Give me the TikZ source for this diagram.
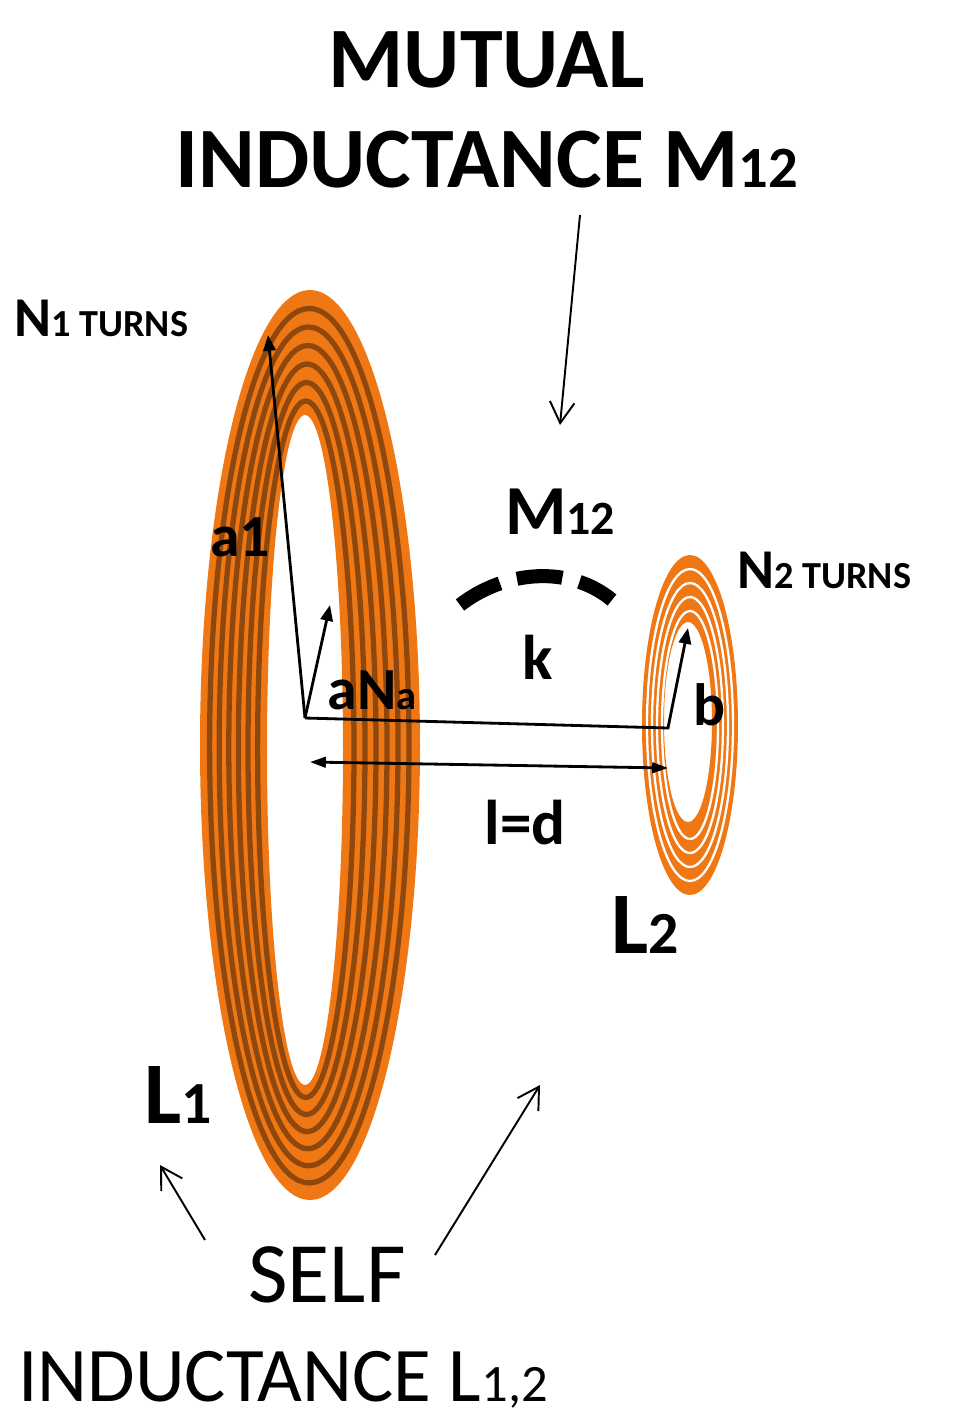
\documentclass[tikz,border=0pt]{standalone}
\usepackage{fontspec}
\setmainfont{Carlito}
\usetikzlibrary{arrows.meta}
\definecolor{cor}{RGB}{240,120,20}
\definecolor{cdark}{RGB}{110,55,10}
\tikzset{
  lab/.style={font=\bfseries\fontsize{#1}{#1}\selectfont, inner sep=0pt},
  reg/.style={font=\fontsize{#1}{#1}\selectfont, inner sep=0pt},
  vec/.style={line width=1.6pt, -{Triangle[length=9pt,width=7pt]}},
  thin/.style={line width=1.1pt, -{Straight Barb[length=12pt,width=14pt]}}
}
\newcommand{\sbs}[1]{{\fontsize{0.68em}{1em}\selectfont #1}}
\begin{document}
\begin{tikzpicture}[x=0.02cm,y=-0.02cm]
\useasboundingbox (0,0) rectangle (978,1428);
% big coil
\fill[cor,even odd rule] (310,745) ellipse [x radius=110,y radius=455] (305,750) ellipse [x radius=38,y radius=335];
\foreach \i in {1,...,6}{
  \pgfmathsetmacro\rx{110-\i*10.3}
  \pgfmathsetmacro\ry{455-\i*17.8}
  \pgfmathsetmacro\cx{310-\i*0.7}
  \draw[cdark,line width=3pt,opacity=0.75] (\cx,745+\i*0.7) ellipse [x radius=\rx,y radius=\ry];
}
% small coil
\fill[cor,even odd rule] (690,725) ellipse [x radius=48,y radius=170] (688,722) ellipse [x radius=24,y radius=100];
\foreach \i in {1,...,4}{
  \pgfmathsetmacro\rx{48-\i*5}
  \pgfmathsetmacro\ry{170-\i*14}
  \draw[white,line width=1.3pt] (690,725) ellipse [x radius=\rx,y radius=\ry];
}
% coordinates
\coordinate (O) at (305,718);
\coordinate (A1) at (268,335);
\coordinate (AN) at (330,605);
\coordinate (P) at (668,728);
\coordinate (B) at (688,628);
\coordinate (D1) at (310,762);
\coordinate (D2) at (668,768);
\draw[vec] (O) -- (A1);
\draw[vec] (O) -- (AN);
\draw[line width=1.6pt,-{Triangle[length=9pt,width=7pt]}] (O) -- (P) -- (B);
\draw[line width=1.6pt,{Triangle[length=9pt,width=6pt]}-{Triangle[length=9pt,width=6pt]}] (D1) -- (D2);
% dashed arc
\draw[line width=8pt,dash pattern=on 26pt off 10pt] (460,605) .. controls (505,570) and (570,565) .. (612,600);
% texts
\node[lab=49pt] (t1) at (487,60) {MUTUAL};
\node[lab=49pt] (t2) at (487,160) {INDUCTANCE M\sbs{12}};
\node[lab=32pt,anchor=west] (n1) at (14,318) {N\sbs{1 TURNS}};
\node[lab=34pt] (a1) at (240,537) {a1};
\node[lab=34pt] (an) at (372,690) {aN\sbs{a}};
\node[lab=40pt] (m12) at (560,512) {M\sbs{12}};
\node[lab=36pt] (k) at (538,657) {k};
\node[lab=34pt] (b) at (710,705) {b};
\node[lab=36pt] (ld) at (525,823) {l=d};
\node[lab=32pt,anchor=west] (n2) at (737,570) {N\sbs{2 TURNS}};
\node[lab=50pt] (L2) at (645,925) {L\sbs{2}};
\node[lab=50pt] (L1) at (178,1095) {L\sbs{1}};
\node[reg=49pt] (self) at (327,1275) {SELF};
\node[reg=44pt] (ind) at (283,1380) {INDUCTANCE L\sbs{1,2}};
% arrows
\coordinate (m0) at (580,215);
\coordinate (m1) at (560,425);
\draw[thin] (m0) -- (m1);
\coordinate (s1a) at (205,1240);
\coordinate (s1b) at (160,1165);
\draw[thin] (s1a) -- (s1b);
\coordinate (s2a) at (435,1255);
\coordinate (s2b) at (540,1085);
\draw[thin] (s2a) -- (s2b);
\end{tikzpicture}
\end{document}
